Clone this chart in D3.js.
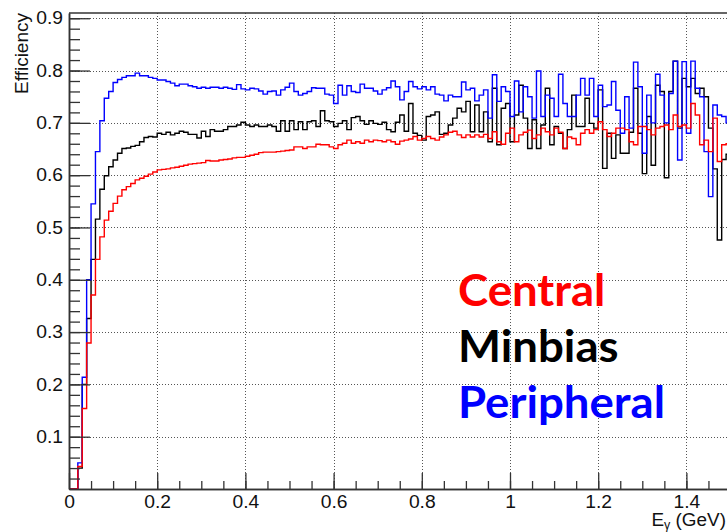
<!DOCTYPE html>
<html>
<head>
<meta charset="utf-8">
<script src="https://cdn.jsdelivr.net/npm/d3@7/dist/d3.min.js"></script>
<style>
  html, body { margin: 0; padding: 0; background: #fff; }
  svg { display: block; }
</style>
</head>
<body>
<svg id="chart" width="727" height="532"></svg>
<script>
// Photon reconstruction efficiency vs photon energy, 0.01 GeV bins starting at 0
const binWidth = 0.01;

const central = [
  0, 0, 0.043, 0.154, 0.279, 0.371, 0.439, 0.482, 0.514, 0.531,
  0.546, 0.560, 0.572, 0.578, 0.584, 0.591, 0.594, 0.598, 0.602, 0.606,
  0.610, 0.611, 0.612, 0.614, 0.615, 0.617, 0.619, 0.621, 0.622, 0.623,
  0.624, 0.628, 0.627, 0.627, 0.629, 0.630, 0.631, 0.633, 0.634, 0.634,
  0.636, 0.638, 0.640, 0.643, 0.644, 0.644, 0.644, 0.645, 0.646, 0.647,
  0.648, 0.654, 0.654, 0.651, 0.654, 0.654, 0.659, 0.658, 0.658, 0.654,
  0.651, 0.658, 0.661, 0.667, 0.661, 0.664, 0.661, 0.667, 0.664, 0.667,
  0.666, 0.664, 0.667, 0.664, 0.659, 0.665, 0.667, 0.669, 0.674, 0.667,
  0.670, 0.674, 0.670, 0.667, 0.673, 0.677, 0.682, 0.684, 0.677, 0.672,
  0.677, 0.673, 0.677, 0.673, 0.678, 0.670, 0.683, 0.664, 0.659, 0.680,
  0.690, 0.664, 0.677, 0.682, 0.686, 0.670, 0.677, 0.690, 0.683, 0.677,
  0.690, 0.682, 0.651, 0.673, 0.670, 0.658, 0.680, 0.687, 0.680, 0.687,
  0.702, 0.687, 0.674, 0.680, 0.690, 0.690, 0.687, 0.664, 0.658, 0.693,
  0.693, 0.687, 0.677, 0.690, 0.693, 0.696, 0.687, 0.715, 0.693, 0.696,
  0.690, 0.737, 0.715, 0.658, 0.667, 0.645, 0.709, 0.626, 0.658, 0.660
];

const minbias = [
  0, 0, 0.040, 0.200, 0.326, 0.439, 0.516, 0.573, 0.599, 0.616,
  0.629, 0.642, 0.651, 0.652, 0.655, 0.657, 0.664, 0.672, 0.674, 0.673,
  0.680, 0.678, 0.682, 0.677, 0.680, 0.684, 0.682, 0.678, 0.678, 0.671,
  0.684, 0.674, 0.687, 0.684, 0.684, 0.687, 0.693, 0.693, 0.696, 0.701,
  0.696, 0.693, 0.696, 0.693, 0.693, 0.696, 0.693, 0.684, 0.704, 0.684,
  0.704, 0.687, 0.702, 0.687, 0.702, 0.704, 0.693, 0.723, 0.704, 0.702,
  0.693, 0.699, 0.704, 0.687, 0.710, 0.712, 0.704, 0.697, 0.704, 0.699,
  0.697, 0.701, 0.687, 0.683, 0.701, 0.715, 0.684, 0.737, 0.680, 0.676,
  0.667, 0.712, 0.715, 0.721, 0.678, 0.680, 0.696, 0.709, 0.728, 0.721,
  0.741, 0.683, 0.734, 0.683, 0.721, 0.664, 0.766, 0.658, 0.728, 0.737,
  0.664, 0.715, 0.772, 0.709, 0.651, 0.706, 0.651, 0.696, 0.766, 0.658,
  0.693, 0.680, 0.651, 0.687, 0.753, 0.693, 0.693, 0.747, 0.699, 0.690,
  0.763, 0.613, 0.680, 0.632, 0.677, 0.642, 0.642, 0.682, 0.766, 0.680,
  0.603, 0.712, 0.619, 0.772, 0.760, 0.595, 0.760, 0.818, 0.690, 0.785,
  0.769, 0.785, 0.756, 0.766, 0.750, 0.690, 0.612, 0.476, 0.630, 0.640
];

const peripheral = [
  0, 0, 0.050, 0.2135, 0.400, 0.545, 0.645, 0.704, 0.747, 0.760,
  0.777, 0.783, 0.787, 0.790, 0.790, 0.795, 0.790, 0.790, 0.787, 0.785,
  0.782, 0.782, 0.779, 0.776, 0.771, 0.774, 0.774, 0.771, 0.769, 0.766,
  0.768, 0.766, 0.768, 0.768, 0.766, 0.768, 0.766, 0.764, 0.773, 0.765,
  0.763, 0.766, 0.765, 0.761, 0.755, 0.760, 0.761, 0.753, 0.763, 0.768,
  0.776, 0.760, 0.753, 0.756, 0.760, 0.767, 0.766, 0.766, 0.755, 0.753,
  0.737, 0.772, 0.753, 0.771, 0.760, 0.758, 0.774, 0.766, 0.766, 0.761,
  0.755, 0.763, 0.767, 0.780, 0.769, 0.744, 0.760, 0.779, 0.769, 0.765,
  0.769, 0.763, 0.769, 0.755, 0.753, 0.742, 0.753, 0.750, 0.750, 0.778,
  0.763, 0.766, 0.742, 0.753, 0.763, 0.709, 0.792, 0.741, 0.769, 0.760,
  0.712, 0.780, 0.721, 0.769, 0.750, 0.709, 0.799, 0.712, 0.753, 0.747,
  0.712, 0.793, 0.737, 0.712, 0.712, 0.753, 0.785, 0.753, 0.785, 0.712,
  0.772, 0.731, 0.734, 0.779, 0.724, 0.680, 0.750, 0.690, 0.816, 0.769,
  0.642, 0.753, 0.700, 0.793, 0.753, 0.700, 0.756, 0.818, 0.629, 0.817,
  0.680, 0.818, 0.766, 0.750, 0.645, 0.559, 0.734, 0.715, 0.712, 0.700
];

const xTicks = [0, 0.2, 0.4, 0.6, 0.8, 1, 1.2, 1.4];
const yTicks = [0.1, 0.2, 0.3, 0.4, 0.5, 0.6, 0.7, 0.8, 0.9];
const yTitle = "Efficiency";

const legendItems = [
  { label: "Central", color: "#ff0000", values: central },
  { label: "Minbias", color: "#000000", values: minbias },
  { label: "Peripheral", color: "#0000ff", values: peripheral }
];

const svg = d3.select("#chart");
svg.append("rect").attr("width", 727).attr("height", 532).attr("fill", "#fff");

const x = d3.scaleLinear().domain([0, 1.5]).range([69, 730.5]);
const y = d3.scaleLinear().domain([0, 0.91]).range([489, 13]);
const [xL, xR] = x.range();
const [yB, yT] = y.range();

// widen a text element slightly around its anchor
function widen(sel, k) {
  sel.each(function () {
    const w = this.getComputedTextLength();
    d3.select(this).attr("textLength", w * k).attr("lengthAdjust", "spacingAndGlyphs");
  });
}

// dotted grid at the major ticks
const grid = svg.append("g").attr("stroke", "#555").attr("stroke-width", 1)
  .attr("stroke-dasharray", "1,2");
grid.selectAll(".gx").data(xTicks.filter(d => d > 0)).join("line")
  .attr("x1", d => Math.round(x(d)) + 0.5).attr("x2", d => Math.round(x(d)) + 0.5)
  .attr("y1", yT).attr("y2", yB);
grid.selectAll(".gy").data(yTicks).join("line")
  .attr("y1", d => Math.round(y(d)) + 0.5).attr("y2", d => Math.round(y(d)) + 0.5)
  .attr("x1", xL).attr("x2", xR);

// histograms drawn as steps over the bin edges
const stepLine = d3.line()
  .x(d => x(d[0]))
  .y(d => y(d[1]))
  .curve(d3.curveStepAfter);

const histG = svg.append("g").attr("fill", "none").attr("stroke-width", 1.4);
// draw order: black first, then blue, red on top
[legendItems[1], legendItems[2], legendItems[0]].forEach(s => {
  const pts = s.values.map((v, i) => [i * binWidth, v]);
  pts.push([s.values.length * binWidth, s.values[s.values.length - 1]]);
  histG.append("path").attr("d", stepLine(pts)).attr("stroke", s.color);
});

// frame top
svg.append("line").attr("x1", xL).attr("x2", xR).attr("y1", yT).attr("y2", yT)
  .attr("stroke", "#333").attr("stroke-width", 1.5);

// axes with ticks pointing into the frame
const fontAxis = '"Liberation Sans", Arial, Helvetica, sans-serif';

const yAxis = d3.axisLeft(y).tickValues(yTicks).tickSizeInner(-21).tickSizeOuter(0)
  .tickPadding(6).tickFormat(d3.format(".1f"));
const yMinor = d3.axisLeft(y).tickValues(d3.range(0.02, 0.91, 0.02)).tickSizeInner(-11)
  .tickSizeOuter(0).tickFormat("");
const yg = svg.append("g").attr("transform", `translate(${xL},0)`).call(yAxis);
const ygm = svg.append("g").attr("transform", `translate(${xL},0)`).call(yMinor);

const xAxis = d3.axisBottom(x).tickValues(xTicks).tickSizeInner(-16).tickSizeOuter(0)
  .tickPadding(6).tickFormat(d => d3.format("")(+d.toFixed(1)));
const xMinor = d3.axisBottom(x).tickValues(d3.range(0.05, 1.5, 0.05)).tickSizeInner(-8)
  .tickSizeOuter(0).tickFormat("");
const xg = svg.append("g").attr("transform", `translate(0,${yB})`).call(xAxis);
const xgm = svg.append("g").attr("transform", `translate(0,${yB})`).call(xMinor);

[yg, ygm, xg, xgm].forEach(g => {
  g.selectAll("path.domain").attr("stroke", "#333").attr("stroke-width", 1.5);
  g.selectAll(".tick line").attr("stroke", "#333").attr("stroke-width", 1.3);
  g.selectAll(".tick text").attr("fill", "#111").style("font-size", "18px")
    .style("font-family", fontAxis);
});
xg.selectAll(".tick text").attr("dy", "0.7em");
widen(yg.selectAll(".tick text"), 1.07);
widen(xg.selectAll(".tick text"), 1.07);

// axis titles
svg.append("text")
  .attr("transform", "translate(28,13) rotate(-90)")
  .attr("text-anchor", "end")
  .style("font-family", fontAxis).style("font-size", "19px").attr("fill", "#111")
  .text(yTitle);

const xt = svg.append("text")
  .attr("x", 726).attr("y", 526).attr("text-anchor", "end")
  .style("font-family", fontAxis).style("font-size", "18px").attr("fill", "#111");
xt.append("tspan").text("E");
xt.append("tspan").attr("dy", 3).style("font-size", "12px").text("γ");
xt.append("tspan").attr("dy", -3).text(" (GeV)");
widen(xt, 1.05);

// legend labels
const legend = svg.append("g")
  .style("font-family", 'Lato, "Open Sans", sans-serif')
  .style("font-weight", "bold").style("font-size", "44px");
const legendText = legend.selectAll("text").data(legendItems).join("text")
  .attr("x", 458).attr("y", (d, i) => 306 + i * 56)
  .attr("fill", d => d.color)
  .text(d => d.label);
widen(legendText, 1.035);
</script>
</body>
</html>
